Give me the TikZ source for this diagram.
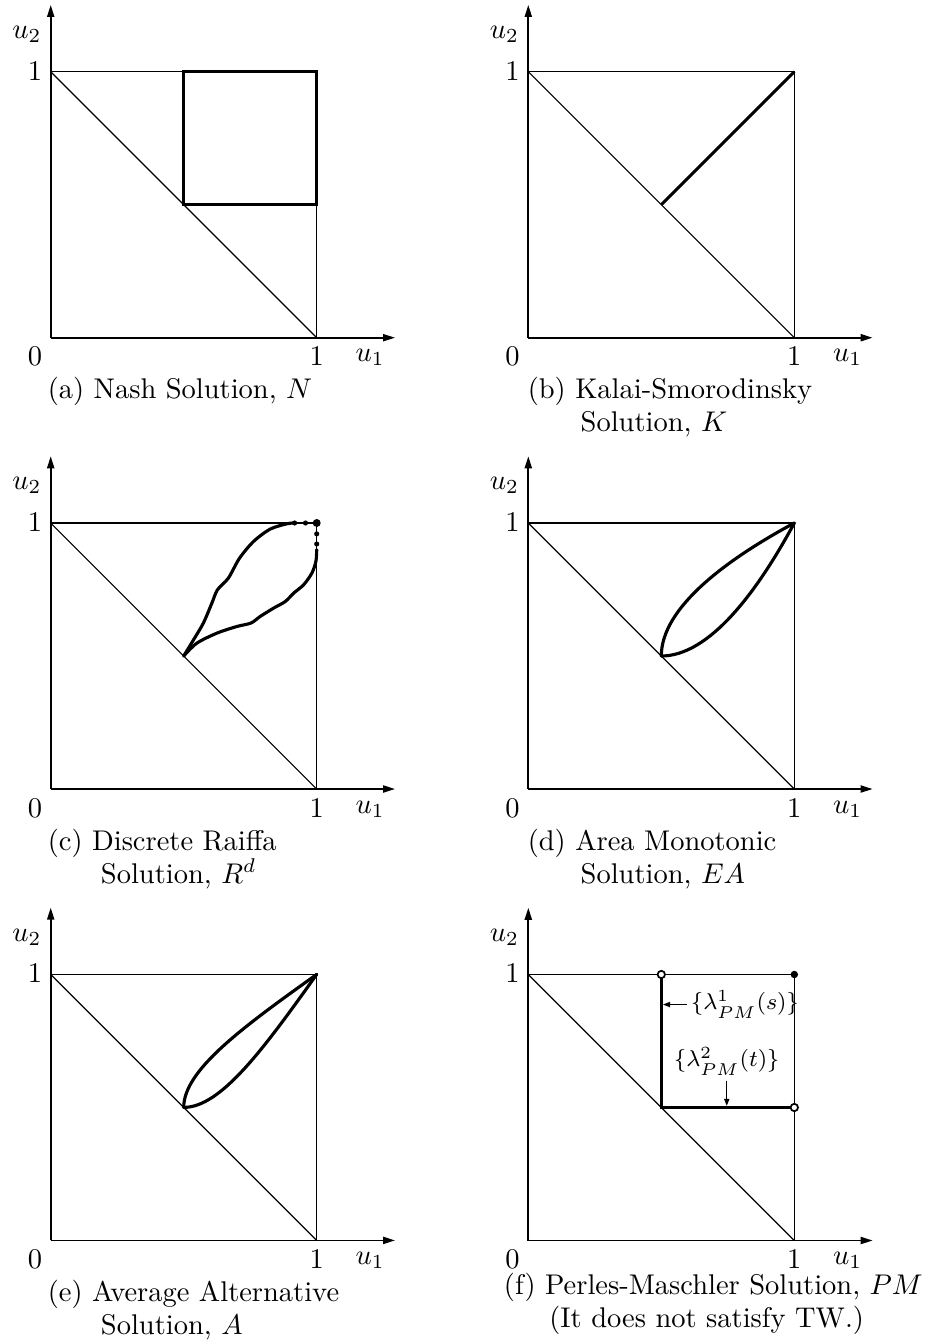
\documentclass[tikz,border=0pt]{standalone}
\usetikzlibrary{arrows.meta}
\newcommand\basepanel[1]{%
  \coordinate (#1o) at (0,0);
  \coordinate (#1x) at (344.3,0);
  \coordinate (#1y) at (0,-332.7);
  \coordinate (#1t) at (0,-266);
  \coordinate (#1r) at (266,0);
  \coordinate (#1c) at (266,-266);
  \draw[thinline] (#1t) -- (#1c) -- (#1r);
  \draw[thinline] (#1t) -- (#1r);
  \draw[axisline] (#1o) -- (#1x);
  \draw[axisline] (#1o) -- (#1y);
  \node[lbl] (#1zero) at (-15.7,28) {0};
  \node[lbl] (#1one) at (266,28) {1};
  \node[lbl] (#1yone) at (-15.7,-257.6) {1};
  \node[lbl,anchor=base west] (#1uone) at (304.3,24) {$u_1$};
  \node[lbl,anchor=base west] (#1utwo) at (-39,-299.4) {$u_2$};
}
\begin{document}
\begin{tikzpicture}[x=0.351pt,y=-0.351pt,
  thinline/.style={line width=0.4pt},
  axisline/.style={line width=0.6pt,-{Triangle[length=4.2pt,width=2.5pt]}},
  thickline/.style={line width=1.1pt,line join=round,line cap=round},
  lbl/.style={inner sep=0pt,anchor=base},
  capline/.style={inner sep=0pt,anchor=base west},
  capmid/.style={inner sep=0pt,anchor=base},
  unitsq/.style={x=93.37pt,y=93.37pt},
  sdot/.style={circle,fill=black,inner sep=0pt,minimum size=1.8pt},
  bdot/.style={circle,fill=black,inner sep=0pt,minimum size=2.8pt},
  odot/.style={circle,draw=black,fill=white,line width=0.6pt,inner sep=0pt,minimum size=2.6pt},
  fdot/.style={circle,fill=black,inner sep=0pt,minimum size=2.6pt},
  smallarrow/.style={line width=0.5pt,-{Triangle[length=2.5pt,width=1.8pt]}},
  lamlabel/.style={inner sep=0pt,font=\footnotesize}
]
\useasboundingbox (0,0) rectangle (935,1343);

% (a) Nash
\begin{scope}[shift={(50.7,337.7)}]
  \basepanel{a}
  \begin{scope}[unitsq]
    \draw[thickline,line cap=butt,line join=miter] (0.5,0.5) rectangle (1,1);
  \end{scope}
  \node[capline] (capa) at (-3.5,60.5) {(a) Nash Solution, $N$};
\end{scope}

% (b) Kalai-Smorodinsky
\begin{scope}[shift={(528.3,337.7)}]
  \basepanel{b}
  \begin{scope}[unitsq]
    \coordinate (bm) at (0.5,0.5);
    \coordinate (bk) at (1,1);
    \draw[thickline,line cap=butt] (bm) -- (bk);
  \end{scope}
  \node[capline] (capb1) at (-1.1,60.5) {(b) Kalai-Smorodinsky};
  \node[capline] (capb2) at (51.8,93.5) {Solution, $K$};
\end{scope}

% (c) Discrete Raiffa
\begin{scope}[shift={(50.7,789)}]
  \basepanel{c}
  \begin{scope}[unitsq]
    \draw[thickline] plot[smooth,tension=0.5] coordinates {(0.5,0.5) (0.537,0.561) (0.574,0.624) (0.606,0.699) (0.627,0.749) (0.668,0.793) (0.710,0.868) (0.763,0.931) (0.825,0.977) (0.888,0.997) (0.915,1)};
    \draw[thickline] plot[smooth,tension=0.5] coordinates {(0.5,0.5) (0.549,0.548) (0.625,0.586) (0.700,0.611) (0.753,0.624) (0.788,0.649) (0.838,0.680) (0.882,0.705) (0.913,0.736) (0.951,0.768) (0.982,0.812) (0.997,0.856) (1,0.9)};
    \node[sdot] (cd1) at (0.917,1) {};
    \node[sdot] (cd2) at (0.958,1) {};
    \node[bdot] (cd3) at (1,1) {};
    \node[sdot] (cd4) at (1,0.921) {};
    \node[sdot] (cd5) at (1,0.959) {};
  \end{scope}
  \node[capline] (capc1) at (-3.5,61) {(c) Discrete Raiffa};
  \node[capline] (capc2) at (49.7,94) {Solution, $R^d$};
\end{scope}

% (d) Area Monotonic
\begin{scope}[shift={(528.3,789)}]
  \basepanel{d}
  \begin{scope}[unitsq]
    \coordinate (dm) at (0.5,0.5);
    \coordinate (dk) at (1,1);
    \draw[thickline] (dm) .. controls (0.5,0.68) and (0.74,0.86) .. (dk);
    \draw[thickline] (dm) .. controls (0.68,0.5) and (0.86,0.74) .. (dk);
  \end{scope}
  \node[capline] (capd1) at (-1.1,61) {(d) Area Monotonic};
  \node[capline] (capd2) at (51.8,94) {Solution, $EA$};
\end{scope}

% (e) Average Alternative
\begin{scope}[shift={(50.7,1240.4)}]
  \basepanel{e}
  \begin{scope}[unitsq]
    \coordinate (em) at (0.5,0.5);
    \coordinate (ek) at (1,1);
    \draw[thickline] (em) .. controls (0.5,0.64) and (0.72,0.8) .. (ek);
    \draw[thickline] (em) .. controls (0.64,0.5) and (0.8,0.72) .. (ek);
  \end{scope}
  \node[capline] (cape1) at (-3.5,61) {(e) Average Alternative};
  \node[capline] (cape2) at (49.7,94) {Solution, $A$};
\end{scope}

% (f) Perles-Maschler
\begin{scope}[shift={(528.3,1240.5)}]
  \basepanel{f}
  \begin{scope}[unitsq]
    \coordinate (fm) at (0.5,0.5);
    \coordinate (fa) at (0.5,1);
    \coordinate (fb) at (1,0.5);
    \draw[thickline,line cap=butt,line join=miter] (fa) -- (fm) -- (fb);
    \node[odot] (fo1) at (fa) {};
    \node[odot] (fo2) at (fb) {};
    \node[fdot] (fk) at (1,1) {};
    \node[lamlabel,anchor=west] (lam1) at (0.61,0.887) {$\{\lambda^1_{PM}(s)\}$};
    \node[lamlabel,anchor=south] (lam2) at (0.746,0.62) {$\{\lambda^2_{PM}(t)\}$};
    \draw[smallarrow,shorten <=1.2pt,shorten >=0.55pt] (lam1.west) -- (lam1.west -| fm);
    \draw[smallarrow,shorten <=1.8pt,shorten >=0.55pt] (lam2.south) -- (lam2.south |- fm);
  \end{scope}
  \node[capmid] (capf1) at (185,54) {(f) Perles-Maschler Solution, $PM$};
  \node[capmid] (capf2) at (178.4,87.4) {(It does not satisfy TW.)};
\end{scope}
\end{tikzpicture}
\end{document}
